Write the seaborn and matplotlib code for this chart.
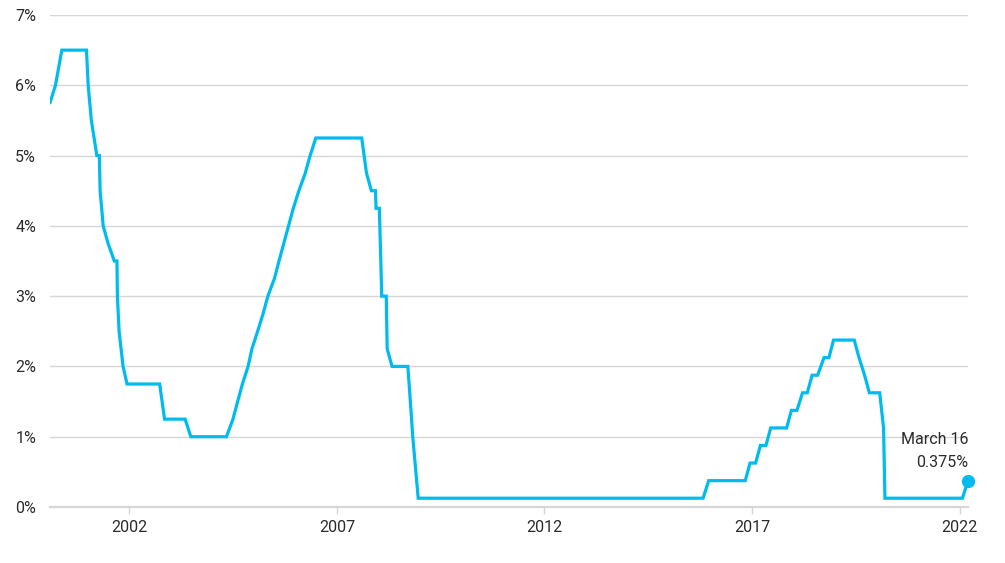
import matplotlib
matplotlib.use("Agg")
import matplotlib.pyplot as plt
import matplotlib.dates as mdates
import seaborn as sns
import pandas as pd

# FOMC decision points (target rate, midpoint of range after 2008)
dates = [
    "2000-02-02", "2000-03-21", "2000-05-16", "2000-12-19",
    "2001-01-03", "2001-01-31", "2001-03-20", "2001-04-11", "2001-04-18",
    "2001-05-15", "2001-06-27", "2001-08-21", "2001-09-13", "2001-09-17",
    "2001-10-02", "2001-11-06", "2001-12-11",
    "2002-09-24", "2002-11-06", "2003-05-06", "2003-06-25", "2004-05-04",
    "2004-06-30", "2004-08-10", "2004-09-21", "2004-11-10", "2004-12-14",
    "2005-02-02", "2005-03-22", "2005-05-03", "2005-06-30", "2005-08-09",
    "2005-09-20", "2005-11-01", "2005-12-13", "2006-01-31", "2006-03-28",
    "2006-05-10", "2006-06-29",
    "2007-08-07", "2007-09-18", "2007-10-31", "2007-12-06", "2007-12-11",
    "2008-01-09", "2008-01-22", "2008-01-30", "2008-03-10", "2008-03-18",
    "2008-04-30", "2008-09-16", "2008-10-08", "2008-10-29", "2008-12-16",
    "2015-10-28", "2015-12-16", "2016-11-02", "2016-12-14", "2017-02-01",
    "2017-03-15", "2017-05-03", "2017-06-14", "2017-11-01", "2017-12-13",
    "2018-01-31", "2018-03-21", "2018-05-02", "2018-06-13", "2018-08-01",
    "2018-09-26", "2018-11-08", "2018-12-19", "2019-06-19", "2019-07-31",
    "2019-09-18", "2019-10-30", "2020-01-29", "2020-03-03", "2020-03-15",
    "2022-01-26", "2022-03-16",
]
rates = [
    5.75, 6.0, 6.5, 6.5,
    6.0, 5.5, 5.0, 5.0, 4.5,
    4.0, 3.75, 3.5, 3.5, 3.0,
    2.5, 2.0, 1.75,
    1.75, 1.25, 1.25, 1.0, 1.0,
    1.25, 1.5, 1.75, 2.0, 2.25,
    2.5, 2.75, 3.0, 3.25, 3.5,
    3.75, 4.0, 4.25, 4.5, 4.75,
    5.0, 5.25,
    5.25, 4.75, 4.5, 4.5, 4.25,
    4.25, 3.5, 3.0, 3.0, 2.25,
    2.0, 2.0, 1.5, 1.0, 0.125,
    0.125, 0.375, 0.375, 0.625, 0.625,
    0.875, 0.875, 1.125, 1.125, 1.375,
    1.375, 1.625, 1.625, 1.875, 1.875,
    2.125, 2.125, 2.375, 2.375, 2.125,
    1.875, 1.625, 1.625, 1.125, 0.125,
    0.125, 0.375,
]
x_ticks = ["2002", "2007", "2012", "2017", "2022"]
y_ticks = [0, 1, 2, 3, 4, 5, 6, 7]
last_label = "March 16\n0.375%"

df = pd.DataFrame({"date": pd.to_datetime(dates), "rate": rates})

sns.set_theme(style="white")
plt.rcParams["font.family"] = ["Roboto", "DejaVu Sans"]

blue = "#00BCEE"
grey = "#d6d6d6"
text_c = "#2b2b2b"

fig = plt.figure(figsize=(10.05, 5.63), dpi=100)
ax = fig.add_axes([50 / 1005, 1 - 507 / 563, 918 / 1005, 492 / 563])

for v in y_ticks[1:]:
    ax.axhline(v, color=grey, lw=1, zorder=0)

sns.lineplot(data=df, x="date", y="rate", ax=ax, color=blue, lw=2.3,
             solid_joinstyle="miter", zorder=3)
ax.plot(df["date"].iloc[-1], df["rate"].iloc[-1], "o", color=blue, ms=8.5,
        clip_on=False, zorder=4)
ax.annotate(last_label, (df["date"].iloc[-1], df["rate"].iloc[-1]),
            xytext=(0, 8), textcoords="offset points", ha="right", va="bottom",
            fontsize=11.5, color=text_c, linespacing=1.6)

ax.set_xlim(pd.Timestamp("2000-02-02"), pd.Timestamp("2022-03-16"))
ax.set_ylim(0, 7)
ax.set_xticks([pd.Timestamp(f"{y}-01-01") for y in x_ticks])
ax.xaxis.set_major_formatter(mdates.DateFormatter("%Y"))
ax.set_yticks(y_ticks)
ax.set_yticklabels([f"{v}%" for v in y_ticks])
ax.set_xlabel("")
ax.set_ylabel("")

for s in ["top", "right", "left"]:
    ax.spines[s].set_visible(False)
ax.spines["bottom"].set_color(grey)
ax.spines["bottom"].set_linewidth(1.6)
ax.tick_params(axis="x", length=5, width=1, color=grey, labelsize=11.5,
               labelcolor=text_c, pad=4, bottom=True)
ax.tick_params(axis="y", length=0, labelsize=11.5, labelcolor=text_c, pad=10)

fig.savefig("out.png", dpi=100, facecolor="white")
